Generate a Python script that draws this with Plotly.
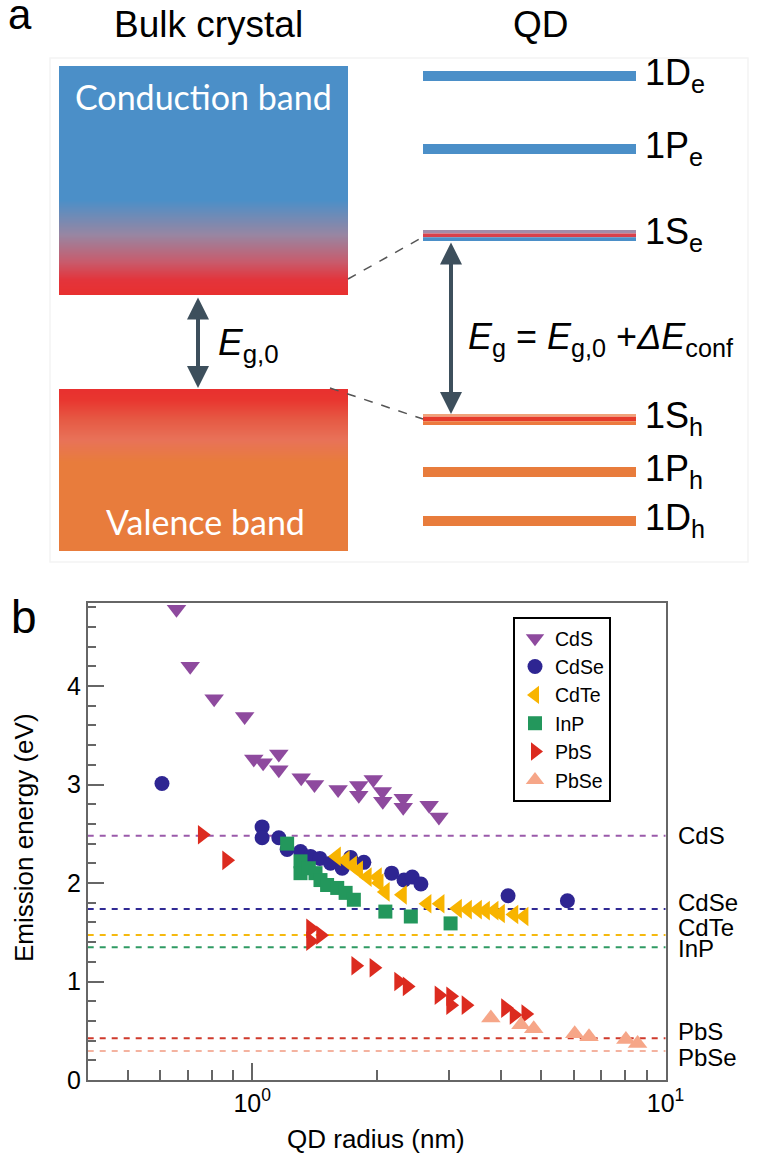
import numpy as np
import plotly.graph_objects as go

W, H = 759, 1160

# ---------------- Panel b data ----------------
materials = ["CdS", "CdSe", "CdTe", "InP", "PbS", "PbSe"]

cds_r = [0.656, 0.708, 0.809, 0.959, 1.009, 1.063, 1.160, 1.160, 1.314, 1.415,
         1.614, 1.811, 1.811, 1.963, 2.065, 2.07, 2.32, 2.32, 2.68, 2.83]
cds_e = [4.78, 4.20, 3.87, 3.69, 3.26, 3.22, 3.31, 3.15, 3.07, 3.00,
         2.95, 2.99, 2.89, 3.05, 2.93, 2.83, 2.86, 2.77, 2.79, 2.67]

cdse_r = [0.605, 1.057, 1.057, 1.16, 1.215, 1.309, 1.384, 1.458, 1.547, 1.651,
          1.73, 1.863, 2.175, 2.33, 2.44, 2.56, 4.16, 5.79]
cdse_e = [3.01, 2.57, 2.46, 2.46, 2.34, 2.32, 2.27, 2.25, 2.20, 2.15,
          2.26, 2.21, 2.10, 2.03, 2.06, 1.99, 1.87, 1.82]

cdte_r = [1.60, 1.68, 1.75, 1.81, 1.90, 2.01, 2.03, 2.10, 2.31, 2.65,
          2.85, 3.14, 3.32, 3.51, 3.67, 3.85, 3.99, 4.30, 4.55]
cdte_e = [2.27, 2.23, 2.18, 2.13, 2.06, 2.06, 2.00, 1.91, 1.88, 1.79,
          1.79, 1.74, 1.73, 1.73, 1.72, 1.72, 1.69, 1.68, 1.66]

inp_r = [1.215, 1.309, 1.309, 1.371, 1.423, 1.463, 1.518, 1.606, 1.683, 1.762,
         2.10, 2.42, 3.02]
inp_e = [2.40, 2.22, 2.10, 2.15, 2.10, 2.03, 1.98, 1.95, 1.90, 1.83,
         1.71, 1.66, 1.59]

pbs_r = [0.757, 0.867, 1.384, 1.384, 1.463, 1.78, 1.97, 2.26, 2.37, 2.83,
         3.02, 3.02, 3.29, 4.10, 4.30, 4.59]
pbs_e = [2.49, 2.23, 1.54, 1.41, 1.47, 1.16, 1.14, 1.00, 0.95, 0.86,
         0.85, 0.76, 0.76, 0.73, 0.66, 0.67]

pbse_r = [3.78, 4.47, 4.80, 6.03, 6.53, 8.02, 8.56]
pbse_e = [0.63, 0.56, 0.52, 0.47, 0.44, 0.41, 0.37]

bulk_gap = [2.48, 1.735, 1.472, 1.347, 0.423, 0.294]
bulk_label_y = [2.487, 1.80, 1.553, 1.335, 0.49, 0.232]

series_r = [cds_r, cdse_r, cdte_r, inp_r, pbs_r, pbse_r]
series_e = [cds_e, cdse_e, cdte_e, inp_e, pbs_e, pbse_e]

mat_colors = ["#8e4a9e", "#2e2592", "#f8b400", "#23975c", "#dc2b1f", "#f6a688"]
line_colors = ["#9a5aaa", "#302a94", "#f5b90f", "#2f9a63", "#cf3a2c", "#f4b3a0"]
mat_symbols = ["triangle-down", "circle", "triangle-left", "square",
               "triangle-right", "triangle-up"]
mat_sizes = [17, 15, 17, 14, 17, 17]

x_major = [1, 10]
x_major_text = ["10<sup>0</sup>", "10<sup>1</sup>"]
x_minor = [0.5, 0.6, 0.7, 0.8, 0.9, 2, 3, 4, 5, 6, 7, 8, 9]

# ---------------- Panel a schematic (pixel geometry) ----------------
cb_box = [59, 66, 348, 295]
cb_stops = [66, 200, 235, 262, 280, 295]
cb_cols = ["#4b8fc8", "#4b8fc8", "#9886a2", "#c85b6c", "#e3343b", "#e8302f"]
vb_box = [59, 389, 348, 551]
vb_stops = [389, 400, 420, 440, 462, 551]
vb_cols = ["#e8302f", "#e8362f", "#e65a45", "#e87258", "#e87c3c", "#e87c3c"]

qd_x0, qd_x1 = 423, 636
e_levels_y = [76, 149]
h_levels_y = [472, 521]
level_th = 10
blue = "#4b8fc8"
orange = "#e87c3c"
level_labels = ["1D<sub>e</sub>", "1P<sub>e</sub>", "1S<sub>e</sub>",
                "1S<sub>h</sub>", "1P<sub>h</sub>", "1D<sub>h</sub>"]
level_label_y = [75, 148, 234, 418, 471, 520]

fig = go.Figure()

def grad_heat(box, stops, cols):
    x0, y0, x1, y1 = box
    ys = np.arange(y0, y1 + 1, 1.0)
    zc = (ys[:-1] + 0.5 - y0) / (y1 - y0)
    cs = [[(s - y0) / (y1 - y0), c] for s, c in zip(stops, cols)]
    cs[0][0] = 0.0
    cs[-1][0] = 1.0
    return go.Heatmap(x=[x0, x1], y=ys, z=zc.reshape(-1, 1), colorscale=cs,
                      zmin=0, zmax=1, showscale=False, hoverinfo="skip",
                      xaxis="x2", yaxis="y2", showlegend=False)

fig.add_trace(grad_heat(cb_box, cb_stops, cb_cols))
fig.add_trace(grad_heat(vb_box, vb_stops, vb_cols))

shapes = []
# faint panel frame of the schematic
shapes.append(dict(type="rect", xref="x2", yref="y2", x0=50, x1=748, y0=58, y1=562,
                   line=dict(color="#f4f4f4", width=1.5), layer="below"))

def rect(x0, y0, x1, y1, col, ref=("x2", "y2")):
    shapes.append(dict(type="rect", xref=ref[0], yref=ref[1], x0=x0, x1=x1,
                       y0=y0, y1=y1, fillcolor=col, line=dict(width=0), layer="above"))

for yc in e_levels_y:
    rect(qd_x0, yc - level_th / 2, qd_x1, yc + level_th / 2, blue)
for yc in h_levels_y:
    rect(qd_x0, yc - level_th / 2, qd_x1, yc + level_th / 2, orange)
rect(qd_x0, 230, qd_x1, 233.5, "#a38ca9")
rect(qd_x0, 233.5, qd_x1, 237.2, "#d9404b")
rect(qd_x0, 237.2, qd_x1, 241, blue)
rect(qd_x0, 414, qd_x1, 416.8, "#f0a27a")
rect(qd_x0, 416.8, qd_x1, 421.3, "#e63a2b")
rect(qd_x0, 421.3, qd_x1, 425, "#ec7a3e")

shapes.append(dict(type="line", xref="x2", yref="y2", x0=348, y0=279, x1=423, y1=237,
                   line=dict(color="#555555", width=1.5, dash="dash")))
shapes.append(dict(type="line", xref="x2", yref="y2", x0=330, y0=388, x1=423, y1=419,
                   line=dict(color="#555555", width=1.5, dash="dash")))

for g, c in zip(bulk_gap, line_colors):
    shapes.append(dict(type="line", xref="x domain", yref="y", x0=0, x1=1, y0=g, y1=g,
                       line=dict(color=c, width=2, dash="6px,6px"), layer="below"))

for name, r, e, c, s, sz in zip(materials, series_r, series_e, mat_colors, mat_symbols, mat_sizes):
    fig.add_trace(go.Scatter(x=r, y=e, mode="markers", name=name,
                             marker=dict(symbol=s, color=c, size=sz, line=dict(width=0)),
                             xaxis="x", yaxis="y"))

ann = []
F = "Liberation Sans, Arial, sans-serif"
def T(x, y, text, size, color="black", xa="center", font=F, ref=("x2", "y2"), ya="middle", angle=0):
    ann.append(dict(x=x, y=y, xref=ref[0], yref=ref[1], text=text, showarrow=False,
                    xanchor=xa, yanchor=ya, textangle=angle,
                    font=dict(size=size, color=color, family=font)))

T(20, 14, "a", 42)
T(208, 24, "Bulk crystal", 37)
T(541, 24, "QD", 37)
T(203, 96, "Conduction band", 34, color="white", font="Lato, Open Sans, sans-serif")
T(205, 521, "Valence band", 34, color="white", font="Lato, Open Sans, sans-serif")
T(216, 345, "<i>E</i><sub>g,0</sub>", 37, xa="left")
T(466, 339, "<i>E</i><sub>g</sub> = <i>E</i><sub>g,0</sub> +<i>ΔE</i><sub>conf</sub>", 36, xa="left")
for lbl, yc in zip(level_labels, level_label_y):
    T(643, yc, lbl, 36, xa="left")

ARW = "#3d4f5c"
for (xx, ya_, yb_) in [(198, 296, 388), (451, 241, 414)]:
    ann.append(dict(x=xx, y=yb_, ax=xx, ay=ya_, xref="x2", yref="y2", axref="x2", ayref="y2",
                    showarrow=True, arrowhead=2, arrowsize=1.1, arrowwidth=4, arrowcolor=ARW,
                    arrowside="end+start", text=""))

# panel b label
ann.append(dict(x=24 / W, y=1 - 617 / H, xref="paper", yref="paper", text="b", showarrow=False,
                xanchor="center", yanchor="middle", font=dict(size=46, family=F, color="black")))
for lbl, yv in zip(materials, bulk_label_y):
    ann.append(dict(x=676 / W, y=yv, xref="paper", yref="y", text=lbl, showarrow=False,
                    xanchor="left", yanchor="middle", font=dict(size=24, family=F, color="black")))
ann.append(dict(x=376 / W, y=1 - 1139 / H, xref="paper", yref="paper", text="QD radius (nm)",
                showarrow=False, xanchor="center", yanchor="middle",
                font=dict(size=26, family=F, color="black")))
ann.append(dict(x=24 / W, y=1 - 838 / H, xref="paper", yref="paper", text="Emission energy (eV)",
                showarrow=False, xanchor="center", yanchor="middle", textangle=-90,
                font=dict(size=26, family=F, color="black")))

ax_col = "#666666"
fig.update_layout(
    width=W, height=H, margin=dict(l=0, r=0, t=0, b=0, pad=0, autoexpand=False),
    paper_bgcolor="white", plot_bgcolor="white",
    shapes=shapes, annotations=ann,
    xaxis=dict(type="log", domain=[87.7 / W, 665.5 / W], range=[np.log10(0.4), 1],
               tickvals=x_major, ticktext=x_major_text, ticks="inside", ticklen=17,
               tickwidth=1.5, tickcolor=ax_col, automargin=False,
               minor=dict(tickvals=x_minor, ticks="inside", ticklen=10, tickwidth=1.5, tickcolor=ax_col),
               showline=True, linecolor=ax_col, linewidth=1.5, mirror=True, showgrid=False,
               zeroline=False, tickfont=dict(size=25, family=F, color="black"), anchor="y"),
    yaxis=dict(domain=[1 - 1080 / H, 1 - 603.3 / H], range=[0, 4.84],
               tickvals=[0, 1, 2, 3, 4], ticks="inside", ticklen=17, tickwidth=1.5, tickcolor=ax_col,
               automargin=False,
               minor=dict(dtick=0.2, ticks="inside", ticklen=9, tickwidth=1.5, tickcolor=ax_col),
               showline=True, linecolor=ax_col, linewidth=1.5, mirror=True, showgrid=False,
               zeroline=False, tickfont=dict(size=25, family=F, color="black"), anchor="x"),
    xaxis2=dict(domain=[0, 1], range=[0, W], visible=False, anchor="y2", fixedrange=True,
                automargin=False),
    yaxis2=dict(domain=[1 - 565 / H, 1], range=[565, 0], visible=False, anchor="x2",
                fixedrange=True, automargin=False),
    legend=dict(x=513 / W, y=1 - 617 / H, xanchor="left", yanchor="top",
                bordercolor="black", borderwidth=2, bgcolor="white",
                font=dict(size=19.5, family=F, color="black"), itemwidth=30),
    showlegend=True,
)

fig.write_html("out.html", post_script="document.body.style.margin='0';",
               config={"displayModeBar": False})
